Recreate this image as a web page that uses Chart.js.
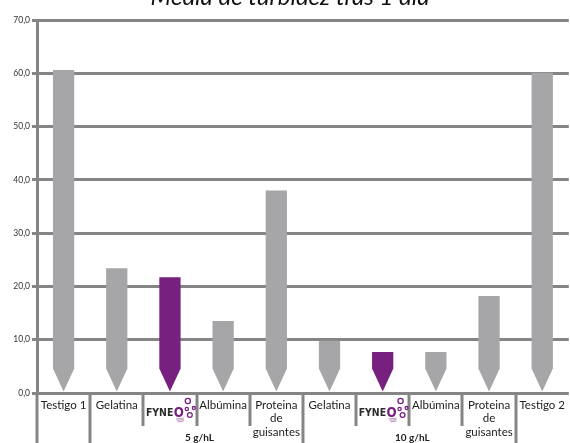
<!DOCTYPE html>
<html><head><meta charset="utf-8">
<script src="https://cdn.jsdelivr.net/npm/chart.js@4/dist/chart.umd.min.js"></script>
<style>html,body{margin:0;padding:0;background:#fff;overflow:hidden}#wrap{width:570px;height:443px;position:relative}</style>
</head><body><div id="wrap"><canvas id="c" width="570" height="443"></canvas></div>
<script>
const chartTitle = 'Media de turbidez tras 1 día';
const categories = ['Testigo 1','Gelatina','FYNEO','Albúmina','Proteina de guisantes','Gelatina','FYNEO','Albúmina','Proteina de guisantes','Testigo 2'];
const turbidez = [60.6, 23.4, 21.7, 13.5, 38.0, 9.8, 7.7, 7.7, 18.2, 60.1];
const groupLabels = ['5 g/hL', '10 g/hL'];
const groupFirst = [1, 5];
const groupLast = [4, 8];
const yTicks = [0, 10, 20, 30, 40, 50, 60, 70];

const GRAY = '#a6a6a9', PURPLE = '#772080', LINE = '#858585';
const FONT = 'Lato, "Liberation Sans", sans-serif';

function tickText(lbl){
  if (lbl === 'FYNEO') return '';
  if (lbl === 'Proteina de guisantes') return ['Proteina','de','guisantes'];
  return lbl;
}

const arrowBars = {
  id: 'arrowBars',
  afterDatasetsDraw(chart){
    const ctx = chart.ctx;
    const meta = chart.getDatasetMeta(0);
    meta.data.forEach((bar, i) => {
      const p = bar.getProps(['x','y','base','width'], true);
      const half = p.width/2;
      const tip = Math.min(23, p.base - p.y);
      ctx.save();
      ctx.fillStyle = categories[i] === 'FYNEO' ? PURPLE : GRAY;
      ctx.beginPath();
      ctx.moveTo(p.x - half, p.y);
      ctx.lineTo(p.x + half, p.y);
      ctx.lineTo(p.x + half, p.base - tip);
      ctx.lineTo(p.x, p.base);
      ctx.lineTo(p.x - half, p.base - tip);
      ctx.closePath();
      ctx.fill();
      ctx.restore();
    });
  }
};

const decorations = {
  id: 'decorations',
  afterDraw(chart){
    const ctx = chart.ctx;
    const xs = chart.scales.x;
    const bottom = chart.chartArea.bottom;
    const catW = xs.getPixelForValue(1) - xs.getPixelForValue(0);
    const longB = [0, 1, 5, 9];
    ctx.save();
    // separators
    ctx.strokeStyle = LINE;
    ctx.lineWidth = 3;
    for (let b = 0; b < categories.length; b++){
      const x = Math.round(xs.getPixelForValue(b) - catW/2);
      const yEnd = longB.includes(b) ? 443 : 426;
      ctx.beginPath();
      ctx.moveTo(x, bottom);
      ctx.lineTo(x, yEnd);
      ctx.stroke();
    }
    // group labels
    ctx.fillStyle = '#222';
    ctx.font = 'bold 10px ' + FONT;
    ctx.textAlign = 'center';
    ctx.textBaseline = 'alphabetic';
    groupLabels.forEach((g, k) => {
      const cx = (xs.getPixelForValue(groupFirst[k]) + xs.getPixelForValue(groupLast[k]))/2 + 3;
      ctx.fillText(g, cx, 441);
    });
    // FYNEO logos
    categories.forEach((c, i) => {
      if (c !== 'FYNEO') return;
      const cx = xs.getPixelForValue(i);
      const base = 416;
      ctx.textAlign = 'left';
      ctx.font = '900 11px "DejaVu Sans", sans-serif';
      ctx.fillStyle = '#2b2b2b';
      const w1 = ctx.measureText('FYNE').width * 0.85;
      const x0 = cx - 24;
      ctx.save();
      ctx.translate(x0, base);
      ctx.scale(0.85, 1);
      ctx.fillText('FYNE', 0, 0);
      ctx.restore();
      const ox = x0 + w1 + 0.5;
      ctx.font = '900 14px "DejaVu Sans", sans-serif';
      ctx.fillStyle = PURPLE;
      ctx.save();
      ctx.translate(ox, base + 1);
      ctx.scale(0.85, 1);
      ctx.fillText('O', 0, 0);
      ctx.restore();
      // bubbles
      ctx.strokeStyle = PURPLE;
      ctx.lineWidth = 1.3;
      [[ox+14, base-15, 2.6],[ox+13, base-7, 1.6],[ox+16, base-1, 2.4],[ox+20, base-8, 1.5]].forEach(b => {
        ctx.beginPath(); ctx.arc(b[0], b[1], b[2], 0, Math.PI*2); ctx.stroke();
      });
      ctx.lineWidth = 0.8;
      ctx.globalAlpha = 0.6;
      for (let k = 0; k < 3; k++){
        ctx.beginPath();
        ctx.moveTo(ox + 2 + k, base + 3 + k*1.5);
        ctx.lineTo(ox + 10, base + 2 + k*1.5);
        ctx.stroke();
      }
      ctx.globalAlpha = 1;
    });
    // title (cut at the top)
    ctx.textAlign = 'center';
    ctx.fillStyle = '#111';
    ctx.font = 'italic 24px ' + FONT;
    ctx.fillText(chartTitle, 290, 5);
    ctx.restore();
  }
};

new Chart(document.getElementById('c'), {
  type: 'bar',
  data: {
    labels: categories,
    datasets: [{
      data: turbidez,
      backgroundColor: 'rgba(0,0,0,0)',
      borderWidth: 0,
      barPercentage: 0.4,
      categoryPercentage: 1.0
    }]
  },
  options: {
    responsive: false,
    animation: false,
    devicePixelRatio: 1,
    layout: { padding: { top: 20, left: 0, right: 0, bottom: 0 } },
    plugins: { legend: { display: false }, tooltip: { enabled: false }, title: { display: false } },
    scales: {
      x: {
        grid: { display: false, drawTicks: false },
        border: { display: false },
        ticks: {
          autoSkip: false, maxRotation: 0, minRotation: 0, padding: 5,
          color: '#222', font: { family: FONT, size: 11.5, lineHeight: 1.2 },
          callback: (v, i) => tickText(categories[i])
        },
        afterFit: s => { s.height = 50; }
      },
      y: {
        min: 0, max: 70,
        afterBuildTicks: s => { s.ticks = yTicks.map(v => ({ value: v })); },
        grid: { color: LINE, lineWidth: 3, tickLength: 5 },
        border: { display: true, color: LINE, width: 3 },
        ticks: {
          padding: 2, color: '#333', font: { family: FONT, size: 8.5 },
          callback: v => Number(v).toFixed(1).replace('.', ',')
        },
        afterFit: s => { s.width = 37; }
      }
    }
  },
  plugins: [arrowBars, decorations]
});
</script>
</body></html>
